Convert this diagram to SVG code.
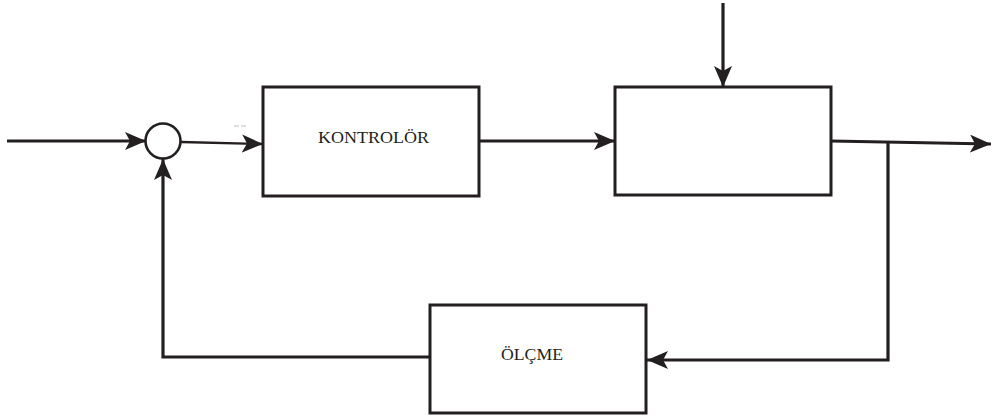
<svg xmlns="http://www.w3.org/2000/svg" width="992" height="418" viewBox="0 0 992 418">
  <style>
    .box { fill: #fff; stroke: #231f20; stroke-width: 3; }
    .wire { fill: none; stroke: #231f20; stroke-width: 3.2; }
    .thin { fill: none; stroke: #231f20; stroke-width: 2.4; }
    .lbl { font-family: "Liberation Serif", "Times New Roman", serif; font-size: 16.5px; fill: #231f20; text-anchor: middle; }
  </style>
  <defs>
    <marker id="arrow" viewBox="0 0 21 18" refX="21" refY="9" markerWidth="21" markerHeight="18" markerUnits="userSpaceOnUse" orient="auto">
      <path d="M0,0 L21,9 L0,18 L5,9 Z" fill="#231f20"/>
    </marker>
  </defs>
  <rect width="992" height="418" fill="#fff"/>

  <g id="connectors">
    <!-- reference input into the summing junction -->
    <line class="wire" x1="7" y1="141" x2="146" y2="141" marker-end="url(#arrow)"/>
    <!-- error signal to the controller -->
    <line class="thin" x1="181" y1="142" x2="263" y2="144" marker-end="url(#arrow)"/>
    <!-- control signal to the process -->
    <line class="wire" x1="479" y1="141" x2="615" y2="141" marker-end="url(#arrow)"/>
    <!-- disturbance into the process -->
    <line class="wire" x1="723" y1="3" x2="723" y2="87" marker-end="url(#arrow)"/>
    <!-- process output -->
    <line class="wire" x1="831" y1="141" x2="991" y2="144" marker-end="url(#arrow)"/>
    <!-- feedback branch to measurement -->
    <polyline class="wire" points="888,143 888,360 647,360" marker-end="url(#arrow)"/>
    <!-- measured signal back to the summing junction -->
    <polyline class="wire" points="430,357 163,357 163,159" marker-end="url(#arrow)"/>
    <!-- small stray mark -->
    <path d="M234,126 h5 M241,126 h5" stroke="#bbb" stroke-width="1"/>
  </g>

  <g id="sum">
    <circle cx="163" cy="141" r="17.5" fill="#fff" stroke="#231f20" stroke-width="2.6"/>
  </g>

  <g id="controller">
    <rect class="box" x="263" y="87" width="216" height="109"/>
    <text class="lbl" x="373.5" y="143" textLength="111" lengthAdjust="spacingAndGlyphs">KONTROLÖR</text>
  </g>

  <g id="process">
    <rect class="box" x="615" y="87" width="216" height="108"/>
  </g>

  <g id="measurement">
    <rect class="box" x="430" y="305" width="216" height="108"/>
    <text class="lbl" x="532" y="360" textLength="62" lengthAdjust="spacingAndGlyphs">ÖLÇME</text>
  </g>
</svg>
